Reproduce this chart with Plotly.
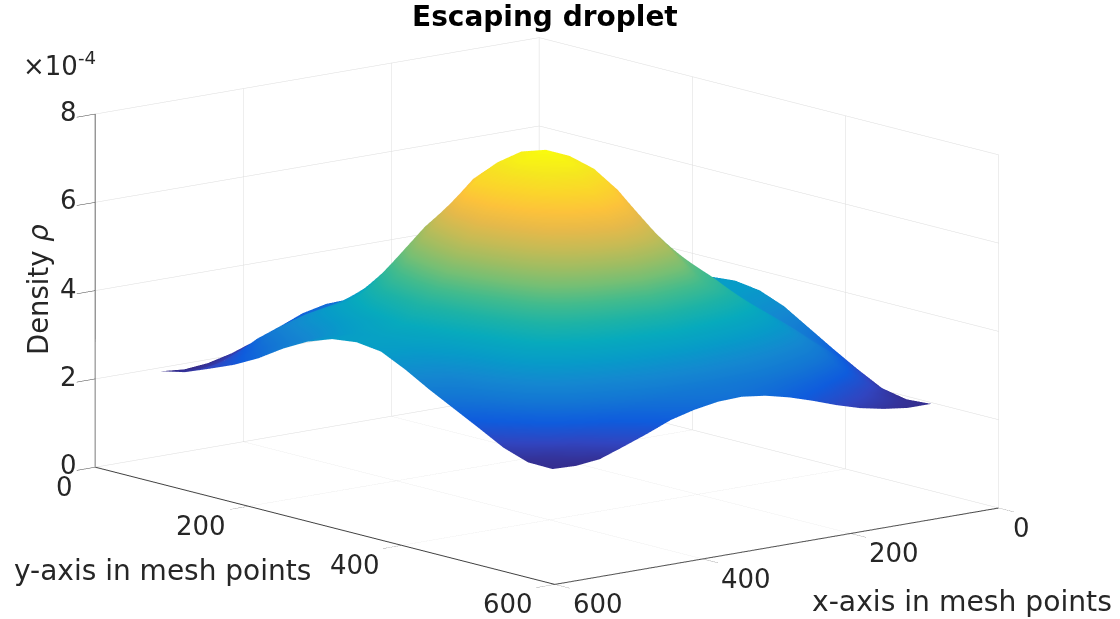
import math
import plotly.graph_objects as go

mesh_x = [0, 32, 64, 96, 128, 160, 192, 224, 256, 288, 320, 352, 384, 416, 448, 480, 512]
mesh_y = [0, 32, 64, 96, 128, 160, 192, 224, 256, 288, 320, 352, 384, 416, 448, 480, 512]

# density in units of 1e-4: one row per mesh_y value, one column per mesh_x value
density = [
    [1.97, 1.97, 2.04, 2.15, 2.31, 2.50, 2.67, 2.80, 2.82, 2.80, 2.68, 2.46, 2.24, 2.05, 1.92, 1.87, 1.92],
    [2.03, 2.13, 2.32, 2.52, 2.72, 2.85, 2.95, 2.98, 3.00, 2.98, 2.92, 2.78, 2.60, 2.40, 2.20, 2.06, 2.04],
    [2.20, 2.42, 2.78, 3.02, 3.18, 3.30, 3.38, 3.42, 3.45, 3.40, 3.30, 3.20, 3.08, 2.95, 2.75, 2.42, 2.26],
    [2.45, 2.78, 3.16, 3.46, 3.68, 3.85, 3.95, 4.03, 4.10, 4.00, 3.85, 3.55, 3.45, 3.35, 3.16, 2.78, 2.49],
    [2.75, 3.03, 3.40, 3.80, 4.18, 4.42, 4.62, 4.75, 4.85, 4.72, 4.55, 4.10, 3.75, 3.65, 3.40, 3.03, 2.78],
    [3.10, 3.22, 3.55, 3.98, 4.48, 5.00, 5.38, 5.65, 5.75, 5.62, 5.35, 4.85, 4.30, 3.90, 3.55, 3.25, 3.14],
    [3.38, 3.45, 3.72, 4.15, 4.70, 5.38, 6.00, 6.38, 6.56, 6.48, 5.98, 5.38, 4.70, 4.15, 3.72, 3.50, 3.44],
    [3.58, 3.62, 3.86, 4.30, 4.92, 5.65, 6.38, 6.95, 7.15, 7.00, 6.65, 5.65, 4.92, 4.30, 3.86, 3.68, 3.64],
    [3.63, 3.68, 3.90, 4.35, 5.00, 5.80, 6.55, 7.10, 7.33, 7.15, 6.60, 5.85, 5.05, 4.40, 3.98, 3.75, 3.71],
    [3.55, 3.62, 3.86, 4.30, 4.92, 5.65, 6.38, 6.95, 7.15, 6.95, 6.38, 5.65, 4.92, 4.30, 3.86, 3.68, 3.64],
    [3.33, 3.42, 3.70, 4.15, 4.70, 5.20, 5.87, 6.38, 6.60, 6.38, 6.00, 5.38, 4.70, 4.15, 3.70, 3.45, 3.37],
    [2.99, 3.18, 3.55, 3.98, 4.48, 4.80, 5.38, 5.65, 5.80, 5.65, 5.38, 5.00, 4.48, 3.98, 3.52, 3.18, 3.05],
    [2.65, 2.98, 3.40, 3.80, 4.18, 4.42, 4.62, 4.75, 4.85, 4.75, 4.62, 4.42, 4.18, 3.80, 3.38, 3.00, 2.76],
    [2.33, 2.75, 3.16, 3.48, 3.68, 3.85, 3.95, 4.03, 4.10, 4.03, 3.95, 3.85, 3.66, 3.45, 3.12, 2.75, 2.47],
    [2.04, 2.42, 2.78, 3.02, 3.18, 3.30, 3.38, 3.42, 3.45, 3.42, 3.38, 3.28, 3.14, 2.98, 2.72, 2.42, 2.17],
    [1.93, 2.12, 2.32, 2.52, 2.72, 2.85, 2.95, 2.98, 3.00, 2.98, 2.94, 2.84, 2.68, 2.48, 2.26, 2.08, 1.98],
    [1.97, 1.97, 2.04, 2.15, 2.31, 2.50, 2.67, 2.80, 2.87, 2.85, 2.76, 2.62, 2.40, 2.20, 2.01, 1.95, 1.97],
]

x_ticks = [0, 200, 400, 600]
y_ticks = [0, 200, 400, 600]
z_ticks = [0, 2, 4, 6, 8]

parula = [
    [0.0, "#352a87"], [0.0625, "#3145c0"], [0.125, "#0f5cdd"], [0.1875, "#1375d4"],
    [0.25, "#1488d0"], [0.3125, "#079bc8"], [0.375, "#07aabd"], [0.4375, "#1eb3a6"],
    [0.5, "#43bb8d"], [0.5625, "#74bf75"], [0.625, "#a0bd62"], [0.6875, "#c6bb55"],
    [0.75, "#e6b94a"], [0.8125, "#fcc23b"], [0.875, "#fbd52b"], [0.9375, "#f5e71f"],
    [1.0, "#f9fb0e"],
]

fig = go.Figure(go.Surface(
    x=mesh_x, y=mesh_y, z=density,
    colorscale=parula, cmin=1.9, cmax=7.33, showscale=False,
    lighting=dict(ambient=1, diffuse=0, specular=0, roughness=1, fresnel=0),
    hoverinfo="skip",
))

def axis(rng, ticks):
    return dict(
        range=rng, tickvals=ticks, title=dict(text=""),
        showbackground=False, showgrid=True, gridcolor="#dcdcdc", gridwidth=1,
        showline=True, linecolor="#404040", linewidth=2, zeroline=False,
        ticks="outside", ticklen=24, tickwidth=1, tickcolor="#404040", showticklabels=False,
        showspikes=False,
    )

label_font = dict(family="DejaVu Sans", size=26, color="#262626")
tick_labels = []
for t in x_ticks:
    tick_labels.append(dict(x=t, y=600, z=0, text=str(t), showarrow=False, font=label_font,
                            xanchor="left", yanchor="middle", xshift=12 if t == 0 else 16, yshift=-20))
for t in y_ticks:
    tick_labels.append(dict(x=600, y=t, z=0, text=str(t), showarrow=False, font=label_font,
                            xanchor="right", yanchor="middle", xshift=-20, yshift=-20))
for t in z_ticks:
    tick_labels.append(dict(x=600, y=0, z=t, text=str(t), showarrow=False, font=label_font,
                            xanchor="right", yanchor="middle", xshift=-16, yshift=2))

phi = math.radians(50.6)
elev = math.radians(12.15)
dist = 5.0
def paper_note(text, px, py, size, **kw):
    return dict(text=text, x=px / 1120, y=1 - py / 619, xref="paper", yref="paper",
                xanchor="center", yanchor="middle", showarrow=False,
                font=dict(family="DejaVu Sans", size=size, color=kw.pop("color", "#262626")), **kw)

fig.update_layout(
    width=1120, height=619, margin=dict(l=0, r=0, t=0, b=0),
    paper_bgcolor="white", showlegend=False,
    font=dict(family="DejaVu Sans", color="#262626"),
    scene=dict(
        domain=dict(x=[0, 1094 / 1120], y=[0, 1]),
        aspectmode="manual", aspectratio=dict(x=1.856, y=2.339, z=1.167),
        xaxis=axis([0, 600], x_ticks), yaxis=axis([0, 600], y_ticks), zaxis=axis([0, 8], z_ticks),
        annotations=tick_labels,
        camera=dict(
            projection=dict(type="orthographic"),
            up=dict(x=0, y=0, z=1), center=dict(x=0, y=0, z=0.005),
            eye=dict(x=dist * math.cos(elev) * math.cos(phi),
                     y=dist * math.cos(elev) * math.sin(phi),
                     z=dist * math.sin(elev)),
        ),
    ),
    annotations=[
        paper_note("<b>Escaping droplet</b>", 545, 17, 28, color="black"),
        paper_note("×10<sup>-4</sup>", 59, 64, 26),
        paper_note("Density <i>ρ</i>", 38, 290, 27.5, textangle=-90),
        paper_note("y-axis in mesh points", 162, 570, 28),
        paper_note("x-axis in mesh points", 962, 601, 28.2),
    ],
)
fig.write_html("out.html", config=dict(displayModeBar=False),
               post_script="document.body.style.margin='0';document.body.style.overflow='hidden';")
